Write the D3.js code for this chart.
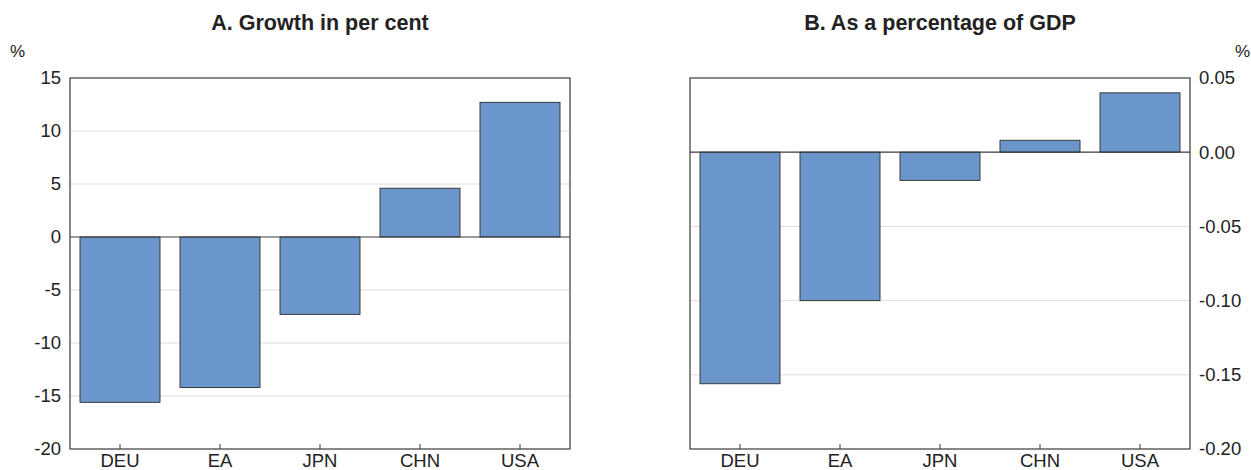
<!DOCTYPE html>
<html>
<head>
<meta charset="utf-8">
<script src="https://cdn.jsdelivr.net/npm/d3@7"></script>
<style>
  html, body { margin: 0; padding: 0; background: #fff; }
  svg { display: block; font-family: "Liberation Sans", Arial, Helvetica, sans-serif; }
</style>
</head>
<body>
<svg id="chart" width="1251" height="470"></svg>
<script>
// Countries shown on both panels
const categories = ["DEU", "EA", "JPN", "CHN", "USA"];

// Panel A: growth in per cent
const growthValues = [-15.6, -14.2, -7.3, 4.6, 12.7];
const growthTicks = [15, 10, 5, 0, -5, -10, -15, -20];

// Panel B: as a percentage of GDP
const gdpValues = [-0.156, -0.100, -0.019, 0.008, 0.040];
const gdpTicks = [0.05, 0.00, -0.05, -0.10, -0.15, -0.20];

const svg = d3.select("#chart");
const barFill = "#6b96cc";
const darkLine = "#3a3a3a";
const gridColor = "#dcdcdc";
const textColor = "#222";
const labelFont = "\"Liberation Sans\", Arial, sans-serif";

function drawPanel(opts) {
  const { left, right, top, bottom, values, ticks, domain, title, axisSide, fmt, unitX, unitAnchor } = opts;
  const g = svg.append("g");

  const x = d3.scaleBand().domain(categories).range([left, right]).paddingInner(0.2).paddingOuter(0.1);
  const y = d3.scaleLinear().domain(domain).range([bottom, top]);

  // Title
  g.append("text")
    .attr("x", (left + right) / 2)
    .attr("y", 30)
    .attr("text-anchor", "middle")
    .attr("font-size", 21.5)
    .attr("font-weight", "bold")
    .attr("fill", textColor)
    .text(title);

  // Unit label
  g.append("text")
    .attr("x", unitX)
    .attr("y", 57)
    .attr("text-anchor", unitAnchor)
    .attr("font-size", 17)
    .attr("fill", textColor)
    .text("%");

  // Horizontal gridlines
  g.append("g").selectAll("line")
    .data(ticks.filter(t => t !== domain[0] && t !== domain[1] && t !== 0))
    .join("line")
    .attr("x1", left).attr("x2", right)
    .attr("y1", d => y(d)).attr("y2", d => y(d))
    .attr("stroke", gridColor).attr("stroke-width", 1);

  // Bars
  g.append("g").selectAll("rect")
    .data(categories.map((c, i) => ({ c, v: values[i] })))
    .join("rect")
    .attr("x", d => x(d.c))
    .attr("width", x.bandwidth())
    .attr("y", d => Math.min(y(d.v), y(0)))
    .attr("height", d => Math.abs(y(d.v) - y(0)))
    .attr("fill", barFill)
    .attr("stroke", darkLine)
    .attr("stroke-width", 1);

  // Zero line
  g.append("line")
    .attr("x1", left).attr("x2", right)
    .attr("y1", y(0)).attr("y2", y(0))
    .attr("stroke", darkLine).attr("stroke-width", 1.2);

  // Frame
  g.append("rect")
    .attr("x", left).attr("y", top)
    .attr("width", right - left).attr("height", bottom - top)
    .attr("fill", "none")
    .attr("stroke", darkLine).attr("stroke-width", 1.2);

  // Category axis with small inward ticks
  const xAxis = d3.axisBottom(x).tickSizeInner(-5).tickSizeOuter(0).tickPadding(5);
  const xg = g.append("g").attr("transform", `translate(0,${bottom})`).call(xAxis);
  xg.select(".domain").remove();
  xg.selectAll(".tick line").attr("stroke", darkLine);
  xg.selectAll(".tick text")
    .attr("font-size", 18.5)
    .attr("fill", textColor)
    .attr("font-family", labelFont);

  // Value axis
  const yAxis = (axisSide === "left" ? d3.axisLeft(y) : d3.axisRight(y))
    .tickValues(ticks).tickFormat(fmt).tickSize(0).tickPadding(9);
  const yg = g.append("g")
    .attr("transform", `translate(${axisSide === "left" ? left : right},0)`)
    .call(yAxis);
  yg.select(".domain").remove();
  yg.selectAll(".tick text")
    .attr("font-size", 18.5)
    .attr("fill", textColor)
    .attr("font-family", labelFont);
}

// Plain hyphen for negative numbers
const hyphen = f => d => f(d).replace("\u2212", "-");

drawPanel({
  left: 70, right: 570, top: 78, bottom: 449,
  values: growthValues, ticks: growthTicks, domain: [-20, 15],
  title: "A. Growth in per cent", axisSide: "left",
  fmt: hyphen(d3.format("d")), unitX: 10, unitAnchor: "start"
});

drawPanel({
  left: 690, right: 1190, top: 78, bottom: 449,
  values: gdpValues, ticks: gdpTicks, domain: [-0.20, 0.05],
  title: "B. As a percentage of GDP", axisSide: "right",
  fmt: hyphen(d3.format(".2f")), unitX: 1250, unitAnchor: "end"
});
</script>
</body>
</html>
